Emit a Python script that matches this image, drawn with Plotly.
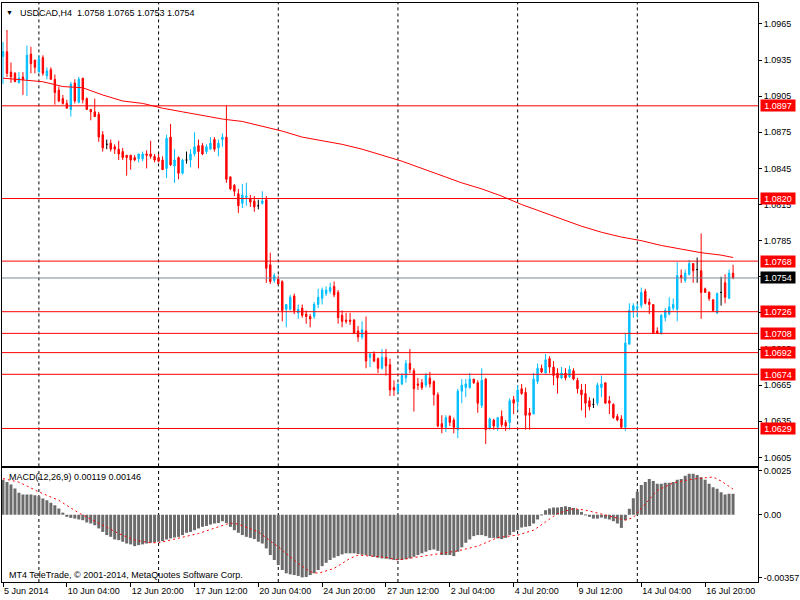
import plotly.graph_objects as go

# USDCAD H4, one entry per bar
opens = [
    1.0938, 1.0942, 1.0925, 1.0924, 1.0916, 1.0921, 1.0919, 1.0940, 1.0935, 1.0925,
    1.0937, 1.0922, 1.0927, 1.0919, 1.0910, 1.0903, 1.0899, 1.0894, 1.0916, 1.0900,
    1.0920, 1.0903, 1.0894, 1.0892, 1.0890, 1.0873, 1.0865, 1.0866, 1.0863, 1.0861,
    1.0859, 1.0856, 1.0856, 1.0854, 1.0853, 1.0853, 1.0857, 1.0857, 1.0855, 1.0854,
    1.0852, 1.0845, 1.0871, 1.0847, 1.0854, 1.0841, 1.0852, 1.0852, 1.0857, 1.0864,
    1.0864, 1.0859, 1.0861, 1.0869, 1.0862, 1.0869, 1.0871, 1.0838, 1.0831, 1.0824,
    1.0816, 1.0821, 1.0820, 1.0818, 1.0814, 1.0816, 1.0819, 1.0765, 1.0752, 1.0753,
    1.0751, 1.0728, 1.0728, 1.0739, 1.0725, 1.0729, 1.0724, 1.0722, 1.0722, 1.0732,
    1.0737, 1.0741, 1.0743, 1.0747, 1.0742, 1.0723, 1.0719, 1.0719, 1.0719, 1.0710,
    1.0705, 1.0710, 1.0688, 1.0691, 1.0687, 1.0679, 1.0688, 1.0682, 1.0663, 1.0660,
    1.0666, 1.0671, 1.0683, 1.0677, 1.0666, 1.0667, 1.0665, 1.0671, 1.0668, 1.0657,
    1.0633, 1.0630, 1.0639, 1.0636, 1.0628, 1.0660, 1.0663, 1.0663, 1.0670, 1.0667,
    1.0648, 1.0670, 1.0629, 1.0636, 1.0630, 1.0639, 1.0634, 1.0634, 1.0653, 1.0651,
    1.0662, 1.0659, 1.0642, 1.0641, 1.0668, 1.0679, 1.0675, 1.0687, 1.0680, 1.0675,
    1.0671, 1.0675, 1.0672, 1.0677, 1.0669, 1.0661, 1.0658, 1.0652, 1.0649, 1.0650,
    1.0663, 1.0667, 1.0652, 1.0649, 1.0639, 1.0637, 1.0630, 1.0699, 1.0727, 1.0729,
    1.0731, 1.0743, 1.0734, 1.0732, 1.0710, 1.0708, 1.0721, 1.0724, 1.0729, 1.0728,
    1.0756, 1.0752, 1.0757, 1.0766, 1.0761, 1.0760, 1.0745, 1.0742, 1.0736, 1.0725,
    1.0742, 1.0750, 1.0737, 1.0758,
]
highs = [
    1.0950, 1.0960, 1.0933, 1.0925, 1.0925, 1.0925, 1.0947, 1.0946, 1.0935, 1.0939,
    1.0939, 1.0929, 1.0929, 1.0923, 1.0913, 1.0906, 1.0902, 1.0917, 1.0919, 1.0921,
    1.0920, 1.0904, 1.0894, 1.0903, 1.0892, 1.0876, 1.0869, 1.0869, 1.0865, 1.0868,
    1.0862, 1.0856, 1.0856, 1.0856, 1.0857, 1.0859, 1.0860, 1.0868, 1.0857, 1.0857,
    1.0855, 1.0873, 1.0882, 1.0861, 1.0855, 1.0853, 1.0859, 1.0861, 1.0875, 1.0869,
    1.0866, 1.0865, 1.0871, 1.0871, 1.0869, 1.0874, 1.0897, 1.0838, 1.0832, 1.0828,
    1.0832, 1.0833, 1.0823, 1.0822, 1.0819, 1.0826, 1.0822, 1.0775, 1.0758, 1.0756,
    1.0752, 1.0732, 1.0740, 1.0741, 1.0732, 1.0732, 1.0727, 1.0724, 1.0734, 1.0745,
    1.0746, 1.0747, 1.0750, 1.0751, 1.0744, 1.0727, 1.0725, 1.0725, 1.0720, 1.0714,
    1.0718, 1.0722, 1.0691, 1.0693, 1.0688, 1.0695, 1.0695, 1.0687, 1.0669, 1.0666,
    1.0675, 1.0686, 1.0695, 1.0679, 1.0671, 1.0670, 1.0675, 1.0676, 1.0669, 1.0659,
    1.0640, 1.0640, 1.0640, 1.0638, 1.0662, 1.0670, 1.0670, 1.0675, 1.0670, 1.0669,
    1.0679, 1.0671, 1.0638, 1.0637, 1.0638, 1.0644, 1.0636, 1.0654, 1.0656, 1.0665,
    1.0666, 1.0663, 1.0646, 1.0675, 1.0683, 1.0682, 1.0691, 1.0689, 1.0685, 1.0679,
    1.0680, 1.0679, 1.0681, 1.0679, 1.0671, 1.0666, 1.0666, 1.0655, 1.0654, 1.0667,
    1.0673, 1.0667, 1.0656, 1.0650, 1.0641, 1.0640, 1.0708, 1.0733, 1.0733, 1.0733,
    1.0746, 1.0745, 1.0737, 1.0732, 1.0713, 1.0724, 1.0729, 1.0738, 1.0737, 1.0767,
    1.0761, 1.0761, 1.0769, 1.0766, 1.0771, 1.0791, 1.0746, 1.0743, 1.0736, 1.0742,
    1.0755, 1.0757, 1.0761, 1.0765,
]
lows = [
    1.0915, 1.0921, 1.0916, 1.0917, 1.0916, 1.0906, 1.0905, 1.0924, 1.0924, 1.0925,
    1.0922, 1.0919, 1.0919, 1.0898, 1.0900, 1.0898, 1.0895, 1.0888, 1.0899, 1.0899,
    1.0899, 1.0894, 1.0885, 1.0888, 1.0867, 1.0859, 1.0861, 1.0859, 1.0857, 1.0852,
    1.0852, 1.0839, 1.0844, 1.0851, 1.0850, 1.0851, 1.0845, 1.0853, 1.0850, 1.0850,
    1.0844, 1.0837, 1.0847, 1.0833, 1.0836, 1.0840, 1.0849, 1.0846, 1.0855, 1.0845,
    1.0856, 1.0857, 1.0861, 1.0859, 1.0855, 1.0863, 1.0833, 1.0827, 1.0822, 1.0808,
    1.0812, 1.0814, 1.0813, 1.0809, 1.0811, 1.0815, 1.0750, 1.0749, 1.0750, 1.0749,
    1.0718, 1.0713, 1.0727, 1.0724, 1.0720, 1.0721, 1.0716, 1.0713, 1.0720, 1.0729,
    1.0732, 1.0739, 1.0741, 1.0738, 1.0716, 1.0713, 1.0716, 1.0715, 1.0708, 1.0701,
    1.0703, 1.0679, 1.0680, 1.0684, 1.0675, 1.0678, 1.0673, 1.0656, 1.0656, 1.0658,
    1.0665, 1.0667, 1.0675, 1.0643, 1.0661, 1.0661, 1.0663, 1.0663, 1.0648, 1.0630,
    1.0625, 1.0626, 1.0631, 1.0625, 1.0621, 1.0650, 1.0655, 1.0662, 1.0666, 1.0642,
    1.0646, 1.0616, 1.0628, 1.0628, 1.0627, 1.0630, 1.0627, 1.0628, 1.0641, 1.0644,
    1.0657, 1.0628, 1.0628, 1.0641, 1.0666, 1.0675, 1.0675, 1.0675, 1.0665, 1.0658,
    1.0670, 1.0669, 1.0671, 1.0669, 1.0658, 1.0644, 1.0638, 1.0644, 1.0646, 1.0648,
    1.0655, 1.0650, 1.0641, 1.0637, 1.0635, 1.0629, 1.0627, 1.0699, 1.0721, 1.0721,
    1.0729, 1.0732, 1.0724, 1.0708, 1.0708, 1.0707, 1.0718, 1.0723, 1.0727, 1.0718,
    1.0750, 1.0750, 1.0756, 1.0750, 1.0750, 1.0720, 1.0742, 1.0735, 1.0726, 1.0724,
    1.0731, 1.0733, 1.0737, 1.0753,
]
closes = [
    1.0942, 1.0924, 1.0921, 1.0917, 1.0920, 1.0919, 1.0939, 1.0932, 1.0929, 1.0936,
    1.0924, 1.0926, 1.0919, 1.0908, 1.0901, 1.0899, 1.0895, 1.0915, 1.0901, 1.0919,
    1.0902, 1.0894, 1.0892, 1.0888, 1.0871, 1.0862, 1.0865, 1.0861, 1.0861, 1.0857,
    1.0854, 1.0854, 1.0852, 1.0852, 1.0857, 1.0857, 1.0856, 1.0855, 1.0852, 1.0851,
    1.0844, 1.0870, 1.0848, 1.0852, 1.0841, 1.0852, 1.0852, 1.0857, 1.0863, 1.0859,
    1.0857, 1.0863, 1.0866, 1.0861, 1.0866, 1.0871, 1.0836, 1.0828, 1.0826, 1.0814,
    1.0823, 1.0822, 1.0817, 1.0813, 1.0814, 1.0818, 1.0762, 1.0751, 1.0756, 1.0749,
    1.0727, 1.0732, 1.0738, 1.0727, 1.0728, 1.0723, 1.0722, 1.0720, 1.0732, 1.0738,
    1.0744, 1.0744, 1.0746, 1.0740, 1.0721, 1.0718, 1.0718, 1.0718, 1.0708, 1.0705,
    1.0711, 1.0685, 1.0691, 1.0685, 1.0679, 1.0688, 1.0681, 1.0661, 1.0661, 1.0666,
    1.0673, 1.0683, 1.0678, 1.0662, 1.0665, 1.0663, 1.0673, 1.0666, 1.0657, 1.0631,
    1.0630, 1.0638, 1.0634, 1.0630, 1.0660, 1.0665, 1.0666, 1.0670, 1.0667, 1.0650,
    1.0669, 1.0628, 1.0637, 1.0631, 1.0638, 1.0632, 1.0631, 1.0652, 1.0650, 1.0661,
    1.0658, 1.0640, 1.0640, 1.0670, 1.0679, 1.0676, 1.0686, 1.0680, 1.0673, 1.0671,
    1.0675, 1.0671, 1.0678, 1.0670, 1.0662, 1.0657, 1.0650, 1.0647, 1.0649, 1.0665,
    1.0666, 1.0650, 1.0650, 1.0638, 1.0636, 1.0630, 1.0700, 1.0727, 1.0731, 1.0730,
    1.0742, 1.0733, 1.0732, 1.0708, 1.0708, 1.0723, 1.0727, 1.0730, 1.0732, 1.0756,
    1.0754, 1.0758, 1.0766, 1.0760, 1.0761, 1.0742, 1.0742, 1.0737, 1.0727, 1.0741,
    1.0742, 1.0738, 1.0758, 1.0754,
]
bars = list(range(len(closes)))

# moving average (red line), sampled along the chart
ma_bars = [0, 10, 15, 20, 25, 30, 35, 40, 45, 50, 55, 60, 65, 70, 75, 80, 85, 90, 95,
           100, 105, 110, 115, 120, 125, 130, 135, 140, 145, 150, 155, 160, 165, 170,
           175, 180, 183]
ma_values = [1.0920, 1.0917, 1.0913, 1.0912, 1.0906, 1.0901, 1.0899, 1.0895, 1.0892,
             1.0889, 1.0886, 1.0884, 1.0880, 1.0876, 1.0871, 1.0868, 1.0865, 1.0861,
             1.0856, 1.0851, 1.0845, 1.0839, 1.0833, 1.0828, 1.0822, 1.0815, 1.0809,
             1.0803, 1.0797, 1.0792, 1.0788, 1.0785, 1.0781, 1.0778, 1.0775, 1.0773,
             1.0771]

levels = [1.0897, 1.0820, 1.0768, 1.0726, 1.0708, 1.0692, 1.0674, 1.0629]
last_price = 1.0754

# MACD(12,26,9)
macd_hist = [
    0.00200, 0.00186, 0.00172, 0.00149, 0.00126, 0.00116, 0.00116, 0.00116, 0.00111, 0.00105,
    0.00092, 0.00082, 0.00069, 0.00054, 0.00035, 0.00012, -0.00012, -0.00018, -0.00022, -0.00027,
    -0.00031, -0.00044, -0.00050, -0.00060, -0.00078, -0.00098, -0.00116, -0.00126, -0.00141, -0.00145,
    -0.00154, -0.00164, -0.00169, -0.00179, -0.00173, -0.00169, -0.00164, -0.00160, -0.00158, -0.00154,
    -0.00151, -0.00141, -0.00135, -0.00130, -0.00126, -0.00116, -0.00103, -0.00098, -0.00088, -0.00078,
    -0.00069, -0.00064, -0.00056, -0.00050, -0.00047, -0.00037, -0.00047, -0.00069, -0.00088, -0.00103,
    -0.00116, -0.00126, -0.00132, -0.00139, -0.00154, -0.00164, -0.00192, -0.00230, -0.00258, -0.00287,
    -0.00315, -0.00334, -0.00340, -0.00344, -0.00349, -0.00357, -0.00355, -0.00344, -0.00334, -0.00315,
    -0.00293, -0.00274, -0.00258, -0.00245, -0.00236, -0.00226, -0.00220, -0.00220, -0.00220, -0.00224,
    -0.00228, -0.00230, -0.00236, -0.00240, -0.00245, -0.00249, -0.00251, -0.00254, -0.00258, -0.00258,
    -0.00258, -0.00254, -0.00249, -0.00240, -0.00230, -0.00220, -0.00211, -0.00202, -0.00198, -0.00206,
    -0.00230, -0.00230, -0.00230, -0.00236, -0.00211, -0.00186, -0.00160, -0.00141, -0.00122, -0.00116,
    -0.00116, -0.00122, -0.00132, -0.00132, -0.00135, -0.00139, -0.00132, -0.00116, -0.00098, -0.00088,
    -0.00073, -0.00069, -0.00065, -0.00050, -0.00027, -0.00003, 0.00026, 0.00035, 0.00041, 0.00041,
    0.00044, 0.00048, 0.00044, 0.00039, 0.00031, 0.00016, 0.00001, -0.00012, -0.00022, -0.00022,
    -0.00016, -0.00022, -0.00027, -0.00037, -0.00050, -0.00075, -0.00031, 0.00034, 0.00094, 0.00131,
    0.00170, 0.00187, 0.00204, 0.00193, 0.00176, 0.00176, 0.00182, 0.00182, 0.00187, 0.00199,
    0.00204, 0.00222, 0.00233, 0.00233, 0.00227, 0.00213, 0.00199, 0.00176, 0.00156, 0.00148,
    0.00128, 0.00116, 0.00120, 0.00119,
]
signal_bars = [0, 4, 9, 14, 19, 24, 29, 33, 37, 39, 44, 49, 54, 57, 59, 64, 69, 74, 77,
               79, 83, 87, 89, 93, 96, 99, 104, 109, 114, 119, 124, 129, 133, 136, 139,
               143, 146, 149, 153, 156, 158, 161, 164, 168, 171, 174, 178, 180, 183]
signal_values = [0.00206, 0.00186, 0.00130, 0.00082, 0.00010, -0.00050, -0.00107,
                 -0.00145, -0.00160, -0.00160, -0.00135, -0.00107, -0.00069, -0.00047,
                 -0.00054, -0.00098, -0.00183, -0.00278, -0.00325, -0.00334, -0.00306,
                 -0.00249, -0.00230, -0.00236, -0.00243, -0.00258, -0.00240, -0.00220,
                 -0.00206, -0.00179, -0.00130, -0.00116, -0.00088, -0.00041, 0.00007,
                 0.00035, 0.00026, 0.00010, -0.00012, -0.00031, -0.00016, 0.00064,
                 0.00139, 0.00181, 0.00196, 0.00206, 0.00215, 0.00192, 0.00146]

date_bars = [0, 16, 32, 48, 64, 80, 96, 112, 128, 144, 160, 176]
date_labels = ['5 Jun 2014', '10 Jun 04:00', '12 Jun 20:00', '17 Jun 12:00',
               '20 Jun 04:00', '24 Jun 20:00', '27 Jun 12:00', '2 Jul 04:00',
               '4 Jul 20:00', '9 Jul 12:00', '14 Jul 04:00', '16 Jul 20:00']

BULL = '#00bfff'
BEAR = '#ff0000'
FONT = 'Liberation Sans, Arial, sans-serif'

body = [i for i in bars if opens[i] != closes[i]]
doji = [i for i in bars if opens[i] == closes[i]]

fig = go.Figure()
fig.add_trace(go.Candlestick(
    x=body,
    open=[opens[i] for i in body], high=[highs[i] for i in body],
    low=[lows[i] for i in body], close=[closes[i] for i in body],
    increasing=dict(line=dict(color=BULL, width=1), fillcolor=BULL),
    decreasing=dict(line=dict(color=BEAR, width=1), fillcolor=BEAR),
    whiskerwidth=0, showlegend=False, xaxis='x', yaxis='y'))
fig.add_trace(go.Candlestick(
    x=doji,
    open=[opens[i] for i in doji], high=[highs[i] for i in doji],
    low=[lows[i] for i in doji], close=[closes[i] for i in doji],
    increasing=dict(line=dict(color='black', width=1), fillcolor='black'),
    decreasing=dict(line=dict(color='black', width=1), fillcolor='black'),
    whiskerwidth=0, showlegend=False, xaxis='x', yaxis='y'))
fig.add_trace(go.Scatter(
    x=ma_bars, y=ma_values, mode='lines', line=dict(color='#ff0000', width=1),
    showlegend=False, xaxis='x', yaxis='y'))

fig.add_trace(go.Bar(
    x=bars, y=macd_hist, width=0.75, marker=dict(color='#6b6b6b', line=dict(width=0)),
    showlegend=False, xaxis='x2', yaxis='y2'))
fig.add_trace(go.Scatter(
    x=signal_bars, y=signal_values, mode='lines',
    line=dict(color='#ff0000', width=1, dash='2px,3px'),
    showlegend=False, xaxis='x2', yaxis='y2'))

shapes = []
for gx in range(9, len(bars), 30):
    for yr in ('y domain', 'y2 domain'):
        shapes.append(dict(type='line', xref='x', yref=yr, x0=gx, x1=gx, y0=0, y1=1,
                           line=dict(color='black', width=1, dash='3px,3px'),
                           layer='below'))
for lv in levels:
    shapes.append(dict(type='line', xref='paper', yref='y', x0=0, x1=1, y0=lv, y1=lv,
                       line=dict(color='#ff0000', width=1)))
shapes.append(dict(type='line', xref='paper', yref='y', x0=0, x1=1,
                   y0=last_price, y1=last_price, line=dict(color='#778899', width=1)))

annotations = []
for lv in levels:
    annotations.append(dict(text=f'{lv:.4f}', x=1, xref='paper', xanchor='left', xshift=2,
                            y=lv, yref='y', yanchor='middle', showarrow=False,
                            bgcolor='#ff0000', font=dict(color='white', size=9, family=FONT),
                            width=34, height=11, borderpad=0))
annotations.append(dict(text=f'{last_price:.4f}', x=1, xref='paper', xanchor='left', xshift=2,
                        y=last_price, yref='y', yanchor='middle', showarrow=False,
                        bgcolor='black', font=dict(color='white', size=9, family=FONT),
                        width=34, height=11, borderpad=0))

title_text = 'USDCAD,H4\u00a0\u00a0{:.4f} {:.4f} {:.4f} {:.4f}'.format(
    opens[-1], highs[-1], lows[-1], closes[-1])
annotations += [
    dict(text='\u25bc', x=0.0099, y=0.9828, xref='paper', yref='paper', xanchor='center',
         yanchor='middle', showarrow=False, font=dict(size=7, color='black')),
    dict(text=title_text, x=0.0211, y=0.9828, xref='paper', yref='paper', xanchor='left',
         yanchor='middle', showarrow=False, font=dict(size=9, color='black', family=FONT)),
    dict(text='MACD(12,26,9) {:.5f} {:.5f}'.format(macd_hist[-1], signal_values[-1]),
         x=0.0066, y=0.1807, xref='paper', yref='paper', xanchor='left', yanchor='middle',
         showarrow=False, font=dict(size=9, color='black', family=FONT)),
    dict(text='MT4 TeleTrade, \u00a9 2001-2014, MetaQuotes Software Corp.',
         x=0.0066, y=0.0120, xref='paper', yref='paper', xanchor='left', yanchor='middle',
         showarrow=False, font=dict(size=9, color='black', family=FONT)),
]

axis_common = dict(showline=True, mirror=True, linecolor='black', linewidth=1,
                   showgrid=False, zeroline=False,
                   tickfont=dict(size=9, color='black', family=FONT))

fig.update_layout(
    width=800, height=600,
    margin=dict(l=2, r=40, t=1, b=18),
    paper_bgcolor='white', plot_bgcolor='white',
    showlegend=False, hovermode=False, boxgap=0.5,
    shapes=shapes, annotations=annotations,
    xaxis=dict(domain=[0, 1], anchor='y', range=[-0.25, 189.25], showticklabels=False,
               ticks='', rangeslider=dict(visible=False), **axis_common),
    xaxis2=dict(domain=[0, 1], anchor='y2', range=[-0.25, 189.25], matches='x',
                tickvals=date_bars, ticktext=date_labels, ticks='outside', ticklen=4,
                tickcolor='black', ticklabelposition='outside right',
                rangeslider=dict(visible=False), **axis_common),
    yaxis=dict(domain=[0.19966, 1], anchor='x', side='right', range=[1.05975, 1.09824],
               tick0=1.0605, dtick=0.003, tickformat='.4f', ticks='outside', ticklen=3,
               tickcolor='black', **axis_common),
    yaxis2=dict(domain=[0, 0.19621], anchor='x2', side='right', range=[-0.003835, 0.002642],
                tickvals=[0.0025, 0, -0.00357], ticktext=['0.0025', '0.00', '-0.00357'],
                ticks='outside', ticklen=3, tickcolor='black', **axis_common),
)

# the page's default body margin would push the 800x600 figure off the window
fig.write_html('out.html', config={'displayModeBar': False},
               post_script="document.body.style.margin='0';")
